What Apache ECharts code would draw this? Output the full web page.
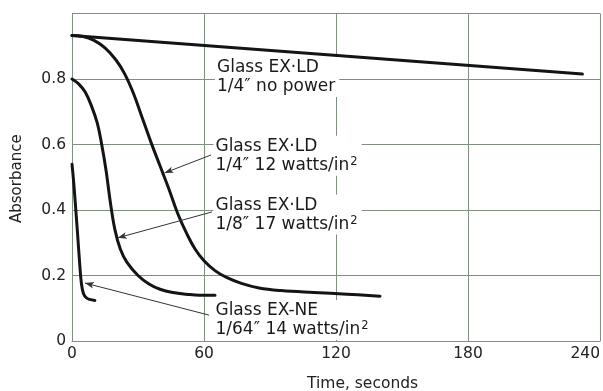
<!DOCTYPE html>
<html><head><meta charset="utf-8">
<script src="https://cdn.jsdelivr.net/npm/echarts@6/dist/echarts.min.js"></script>
<style>html,body{margin:0;padding:0;background:#fff}#c{width:603px;height:391px}</style>
</head><body><div id="c"></div>
<script>
// ---- data ----
const xTickValues = [0, 60, 120, 180, 240];
const xTickLabels = ['0', '60', '120', '180', '240'];
const yTickValues = [0, 0.2, 0.4, 0.6, 0.8, 1.0];
const yTickLabels = ['0', '0.2', '0.4', '0.6', '0.8', ''];

// Glass EX-LD 1/4" no power
const noPowerTime = [0, 232];
const noPowerAbs  = [0.933, 0.815];
// Glass EX-LD 1/4" 12 watts/in2
const w12Time = [0, 5, 10, 15, 20, 24, 28, 32, 36, 40, 44, 48, 52, 56, 60, 65, 70, 77, 85, 95, 110, 125, 140];
const w12Abs  = [0.933, 0.93, 0.918, 0.895, 0.858, 0.815, 0.755, 0.68, 0.605, 0.535, 0.465, 0.39, 0.33, 0.28, 0.245, 0.215, 0.195, 0.176, 0.162, 0.154, 0.148, 0.143, 0.137];
// Glass EX-LD 1/8" 17 watts/in2
const w17Time = [0, 3, 6, 9, 11.5, 13.5, 15.5, 17.3, 19.5, 22, 25, 30, 35, 40, 46, 52, 58, 65];
const w17Abs  = [0.80, 0.785, 0.76, 0.715, 0.665, 0.60, 0.52, 0.43, 0.34, 0.28, 0.24, 0.20, 0.174, 0.158, 0.148, 0.143, 0.14, 0.14];
// Glass EX-NE 1/64" 14 watts/in2
const w14Time = [0, 0.7, 1.4, 2.5, 3.6, 4.3, 5.2, 6.5, 8, 10.4];
const w14Abs  = [0.54, 0.49, 0.43, 0.33, 0.226, 0.175, 0.145, 0.132, 0.127, 0.124];

// annotation labels (anchor = top-left of text block, data coords)
const labelLine1 = ['Glass EX·LD', 'Glass EX·LD', 'Glass EX·LD', 'Glass EX-NE'];
const labelLine2 = ['1/4″ no power', '1/4″ 12 watts/in', '1/8″ 17 watts/in', '1/64″ 14 watts/in'];
const labelSup   = ['', '2', '2', '2'];
const labelAnchorT = [65.0, 64.3, 64.3, 64.3];
const labelAnchorA = [0.867, 0.627, 0.447, 0.125];
// leader lines: from (fromT, fromA) to arrow tip (toT, toA)
const leaderFromT = [63.2, 63.6, 62.3];
const leaderFromA = [0.568, 0.394, 0.079];
const leaderToT   = [42.0, 20.8, 5.9];
const leaderToA   = [0.513, 0.315, 0.177];

// ---- chart ----
const zip = (a, b) => a.map((v, i) => [v, b[i]]);
const FONT = 'DejaVu Sans';
const GRID = '#7f8f80';
const chart = echarts.init(document.getElementById('c'), null, {renderer: 'canvas'});

const curveStyle = {type: 'line', showSymbol: false, symbol: 'none', smooth: 0.4,
  lineStyle: {color: '#141414', width: 3, cap: 'round', join: 'round'}, animation: false, silent: true, z: 3};

const leaderData = leaderFromT.map((t, i) => [
  {coord: [t, leaderFromA[i]], symbol: 'none'},
  {coord: [leaderToT[i], leaderToA[i]], symbol: 'arrow', symbolSize: [5, 9]}
]);

chart.setOption({
  animation: false,
  backgroundColor: '#fff',
  grid: {left: 72, right: 1, top: 13.5, bottom: 50, show: false},
  xAxis: {type: 'value', min: 0, max: 240, interval: 60,
    axisLine: {show: true, lineStyle: {color: GRID, width: 1}},
    axisTick: {show: false},
    splitLine: {show: true, lineStyle: {color: GRID, width: 1}},
    axisLabel: {color: '#222', fontFamily: FONT, fontSize: 15.5, margin: 5, alignMaxLabel: 'right',
      formatter: v => { const i = xTickValues.indexOf(v); return i >= 0 ? xTickLabels[i] : ''; }}
  },
  yAxis: {type: 'value', min: 0, max: 1.0, interval: 0.2,
    axisLine: {show: true, lineStyle: {color: GRID, width: 1}},
    axisTick: {show: false},
    splitLine: {show: true, lineStyle: {color: GRID, width: 1}},
    axisLabel: {color: '#222', fontFamily: FONT, fontSize: 15.5, margin: 6,
      formatter: v => { const i = yTickValues.findIndex(y => Math.abs(y - v) < 1e-9); return i >= 0 ? yTickLabels[i] : ''; }}
  },
  series: [
    Object.assign({}, curveStyle, {name: 'no power', data: zip(noPowerTime, noPowerAbs), smooth: false}),
    Object.assign({}, curveStyle, {name: '12 W', data: zip(w12Time, w12Abs)}),
    Object.assign({}, curveStyle, {name: '17 W', data: zip(w17Time, w17Abs)}),
    Object.assign({}, curveStyle, {name: '14 W', data: zip(w14Time, w14Abs)}),
    {type: 'line', data: [], silent: true, z: 4,
      markLine: {silent: true, animation: false, label: {show: false},
        lineStyle: {color: '#333', width: 1, type: 'solid'}, data: leaderData}}
  ]
});

const graphics = [];
labelLine1.forEach((l1, i) => {
  const p = chart.convertToPixel({gridIndex: 0}, [labelAnchorT[i], labelAnchorA[i]]);
  const sup = labelSup[i] ? '{s|' + labelSup[i] + '}' : '';
  graphics.push({type: 'text', left: p[0], top: p[1], z: 10,
    style: {text: '{n|' + l1 + '}\n{n|' + labelLine2[i] + '}' + sup,
      backgroundColor: '#fff', padding: [1, 4, 1, 2],
      rich: {n: {fontFamily: FONT, fontSize: 17, lineHeight: 19, fill: '#1a1a1a'},
             s: {fontFamily: FONT, fontSize: 11.5, lineHeight: 12, fill: '#1a1a1a', verticalAlign: 'top', padding: [0, 0, 0, 1]}}}});
});
graphics.push({type: 'text', left: 307, top: 376, z: 10,
  style: {text: 'Time, seconds', fontFamily: FONT, fontSize: 15.5, fill: '#222'}});
graphics.push({type: 'text', x: 10, y: 223, rotation: Math.PI / 2, z: 10,
  style: {text: 'Absorbance', fontFamily: FONT, fontSize: 15, fill: '#222'}});
chart.setOption({graphic: graphics});
</script></body></html>
